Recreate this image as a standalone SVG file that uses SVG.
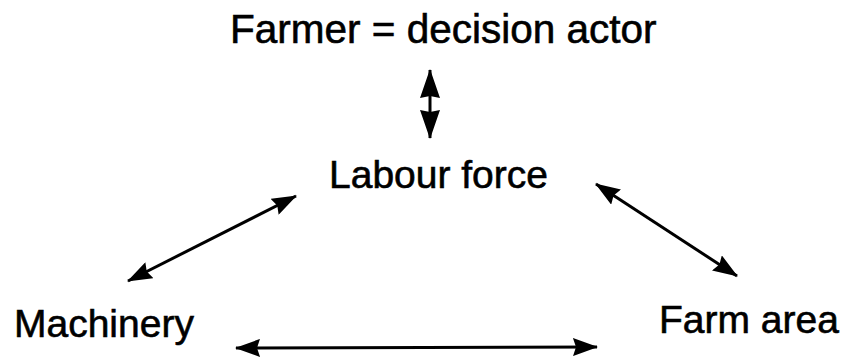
<svg xmlns="http://www.w3.org/2000/svg" width="849" height="360" viewBox="0 0 849 360">
<style>
.lbl{font-family:"Liberation Sans",Arial,sans-serif;font-size:39px;fill:#000;stroke:#000;stroke-width:0.6}
.con{stroke:#000;stroke-width:3;fill:none}
</style>
<defs>
<marker id="ah" markerUnits="userSpaceOnUse" viewBox="0 0 25 18" refX="24" refY="9" markerWidth="25" markerHeight="18" orient="auto-start-reverse">
<path d="M0,0 L25,9 L0,18 L3,9 z" fill="#000"/>
</marker>
<marker id="ahv" markerUnits="userSpaceOnUse" viewBox="0 0 29 20" refX="28" refY="10" markerWidth="29" markerHeight="20" orient="auto-start-reverse">
<path d="M0,0 L29,10 L0,20 L2,10 z" fill="#000"/>
</marker>
</defs>
<rect width="849" height="360" fill="#fff"/>
<g id="farmer"><text class="lbl" x="230" y="43" style="font-size:40.5px">Farmer = decision actor</text></g>
<g id="labour"><text class="lbl" x="329" y="188">Labour force</text></g>
<g id="machinery"><text class="lbl" x="14" y="337">Machinery</text></g>
<g id="farmarea"><text class="lbl" x="659" y="333">Farm area</text></g>
<g id="connectors">
<line class="con" x1="430" y1="70" x2="430" y2="138" stroke-width="5" marker-start="url(#ahv)" marker-end="url(#ahv)"/>
<line class="con" x1="128" y1="281" x2="296" y2="196" marker-start="url(#ah)" marker-end="url(#ah)"/>
<line class="con" x1="596" y1="184" x2="737" y2="276" marker-start="url(#ah)" marker-end="url(#ah)"/>
<line class="con" x1="236" y1="348" x2="597" y2="347" marker-start="url(#ah)" marker-end="url(#ah)"/>
</g>
</svg>
